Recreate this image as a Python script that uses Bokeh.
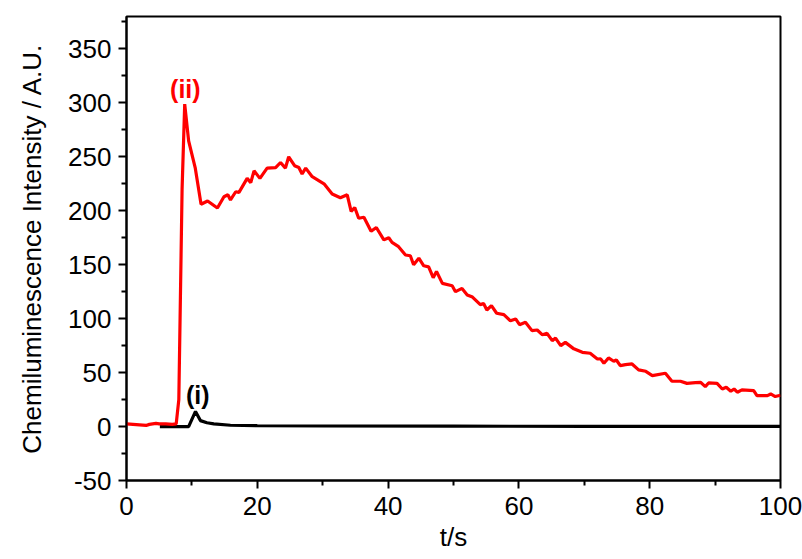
from bokeh.plotting import figure
from bokeh.models import FixedTicker, Range1d
from bokeh.core.properties import value
from bokeh.embed import file_html
from bokeh.resources import INLINE

# ---- data ----
t_ii = [0, 1, 2, 3, 3.5, 4.5, 5, 6, 7, 7.6, 8.0, 8.5, 8.9, 9.5, 10.5, 11.4, 12.4, 13.9,
        14.9, 15.5, 15.9, 16.7, 17.2, 18.45, 19.0, 19.5, 20.4, 21.5, 22.8, 23.55, 24.3,
        24.8, 25.7, 26.35, 26.85, 27.4, 28.4, 30.2, 31.45, 32.7, 33.75, 34.35, 34.9,
        35.5, 36.3, 37.4, 38.2, 39.35, 40.1, 40.6, 41.6, 42.66, 43.4, 43.9, 44.7, 45.45,
        46.2, 46.9, 47.4, 48.3, 49.8, 50.3, 51.3, 52.1, 52.9, 54.1, 54.6, 55.1, 55.8,
        56.6, 57.7, 58.7, 59.5, 60.1, 61.0, 62.0, 62.8, 63.6, 64.3, 65.1, 65.6, 66.4,
        67.1, 68.4, 69.7, 70.9, 72.0, 72.5, 73.0, 73.7, 74.5, 74.9, 75.5, 76.3, 77.3,
        78.3, 79.4, 80.4, 82.4, 83.4, 84.7, 85.7, 87.0, 87.8, 88.5, 89.0, 90.3, 91.1,
        91.7, 92.4, 92.9, 93.4, 94.1, 95.9, 96.4, 98.0, 98.5, 99.2, 100]
v_ii = [2.5, 2, 1.5, 1, 2, 3, 2.5, 2.5, 2, 2.5, 25, 220, 298.8, 264.8, 240, 206, 209, 202.5,
        213, 214.8, 210, 217.6, 217, 230, 226, 237, 230, 239.5, 240, 244.7, 239.5,
        250, 241.7, 240, 234, 239.5, 231.5, 225, 215.5, 212, 214.8, 199.4, 203,
        193, 194, 181, 184.5, 173, 175, 170.7, 166.7, 159, 158.3, 150, 156, 149,
        148, 138, 143.8, 132.7, 130.5, 125, 128, 122, 120, 113, 114, 108, 112,
        105, 103.7, 98, 99.7, 94.4, 96.6, 88.9, 89.5, 85, 86.4, 79.6, 82, 75,
        78, 72, 68.8, 67.9, 62.6, 62.7, 58.6, 63.6, 60.5, 61.7, 56.5, 57.4, 58,
        52.5, 51.2, 47.2, 49.4, 42, 42, 40, 40.7, 41, 37, 40.4, 40, 34.8,
        36.4, 32.7, 34.8, 31.8, 34, 33.3, 28.7, 28.7, 30.2, 27.8, 29]

t_i = [5.1, 9.5, 10.55, 11.3, 12.3, 13.35, 15.9, 20, 30, 50, 70, 100]
v_i = [0, 0, 14, 5.5, 3.5, 2.5, 1.2, 0.8, 0.5, 0.3, 0.2, 0.2]

x_ticks = [0, 20, 40, 60, 80, 100]
y_ticks = [-50, 0, 50, 100, 150, 200, 250, 300, 350]
y_labels = ["-50", "0", "50", "100", "150", "200", "250", "300", "350"]
x_minor = [10, 30, 50, 70, 90]
y_minor = [-25, 25, 75, 125, 175, 225, 275, 325, 375]

label_ii = ["(ii)"]
label_ii_pos = ([9.0], [313])
label_i = ["(i)"]
label_i_pos = ([10.9], [29])

x_title = "t/s"
y_title = "Chemiluminescence Intensity / A.U."

FONT = "Liberation Sans"

p = figure(width=802, height=559, output_backend="svg", toolbar_location=None,
           x_range=Range1d(0, 100), y_range=Range1d(-50, 380),
           min_border_left=126, min_border_right=22, min_border_top=16,
           min_border_bottom=79)
p.grid.visible = False
p.background_fill_color = "white"
p.border_fill_color = "white"
p.outline_line_color = "black"
p.outline_line_width = 2

p.line(t_i, v_i, color="black", line_width=3.2)
p.line(t_ii, v_ii, color="#ff0000", line_width=3.2)

p.text(x=label_ii_pos[0], y=label_ii_pos[1], text=label_ii, text_color="#ff0000",
       text_font=value(FONT), text_font_size="25px", text_font_style="bold",
       text_align="center", text_baseline="middle")
p.text(x=label_i_pos[0], y=label_i_pos[1], text=label_i, text_color="black",
       text_font=value(FONT), text_font_size="25px", text_font_style="bold",
       text_align="center", text_baseline="middle")

p.xaxis.ticker = FixedTicker(ticks=x_ticks, minor_ticks=x_minor)
p.yaxis.ticker = FixedTicker(ticks=y_ticks, minor_ticks=y_minor)
p.yaxis.major_label_overrides = {t: l for t, l in zip(y_ticks, y_labels)}

for ax in (p.xaxis[0], p.yaxis[0]):
    ax.axis_line_width = 2
    ax.major_tick_line_width = 2
    ax.minor_tick_line_width = 2
    ax.major_tick_out = 8
    ax.major_tick_in = 0
    ax.minor_tick_out = 5
    ax.minor_tick_in = 0
    ax.major_label_text_font = FONT
    ax.major_label_text_font_size = "26px"
    ax.major_label_text_color = "black"
    ax.axis_label_text_font = FONT
    ax.axis_label_text_font_size = "26px"
    ax.axis_label_text_font_style = "normal"
    ax.axis_label_text_color = "black"

p.xaxis.axis_label = x_title
p.yaxis.axis_label = y_title
p.xaxis.major_label_standoff = 8
p.xaxis.axis_label_standoff = 4
p.yaxis.major_label_standoff = 7
p.yaxis.axis_label_standoff = 18

open("out.html", "w").write(file_html(p, INLINE))
